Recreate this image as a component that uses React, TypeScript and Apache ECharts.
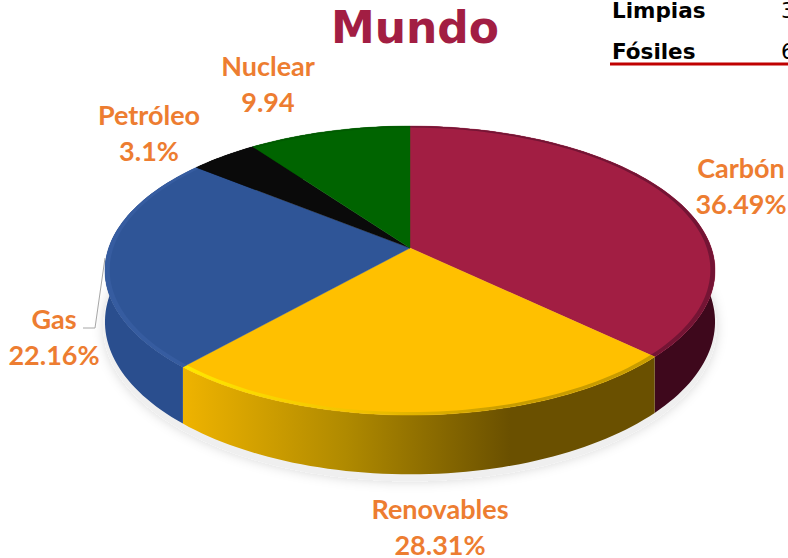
import React, { useEffect, useRef } from "react";
import * as echarts from "echarts";

const categories = ["Carbón", "Renovables", "Gas", "Petróleo", "Nuclear"];
// Slice sizes as drawn in the picture (they differ a little from the printed labels).
const sliceShares = [37.1, 24.5, 24.2, 4.2, 10.0];
const labelValues = ["36.49%", "28.31%", "22.16%", "3.1%", "9.94"];
const tableRows = ["Limpias", "Fósiles"];
const tableValues = ["3", "6"];

const topColors = ["#A21E43", "#FFC000", "#2F5597", "#0A0A0A", "#006400"];
const labelAnchors = [[741, 185], [440, 526], [54, 336], [149, 132], [268, 83]];
const sideStops: string[][] = [
  ["#4E0C25", "#4E0C25", "#3E081C"],
  ["#F0B400", "#B08A00", "#6A5000"],
  ["#2A4E8E", "#2A4E8E", "#23447E"],
  ["#000000", "#000000", "#000000"],
  ["#004000", "#004000", "#004000"],
];
const bevelStops: string[][] = [
  ["#8A1A3C", "#7C1838", "#741434"],
  ["#FFE800", "#F4C400", "#C89C00"],
  ["#365CA0", "#365CA0", "#365CA0"],
  ["#0A0A0A", "#0A0A0A", "#0A0A0A"],
  ["#005A00", "#005A00", "#005A00"],
];

const LABEL = "#ED7D31";
const CX = 410, CY = 248, A = 141, B = 301.3, P = 0.156, DEPTH = 50;
const LEFT = 180, RIGHT = 510;

const proj = (deg: number, r = 1, drop = 0) => {
  const t = (deg * Math.PI) / 180;
  const X = r * Math.sin(t), Y = r * Math.cos(t);
  const d = 1 + P * Y;
  return [CX + (B * X) / d, CY - (A * Y) / d + (drop * DEPTH) / d];
};
const arc = (from: number, to: number, r = 1, drop = 0) => {
  const n = Math.max(2, Math.ceil(Math.abs(to - from) / 1.5));
  const pts: number[][] = [];
  for (let i = 0; i <= n; i++) pts.push(proj(from + ((to - from) * i) / n, r, drop));
  return pts;
};
const total = sliceShares.reduce((s, v) => s + v, 0);
const starts = sliceShares.map((_, i) =>
  (sliceShares.slice(0, i).reduce((s, v) => s + v, 0) / total) * 360);
const ends = starts.map((s, i) => s + (sliceShares[i] / total) * 360);
const grad = (stops: string[]) => ({
  type: "linear", global: true, x: LEFT, y: 0, x2: RIGHT, y2: 0,
  colorStops: stops.map((color, i) => ({ offset: i / (stops.length - 1), color })),
});

const renderSide = (params: any) => {
  const i = params.dataIndex;
  const pts = [...arc(starts[i], ends[i]), ...arc(ends[i], starts[i], 1, 1)];
  return {
    type: "polygon",
    shape: { points: pts },
    style: { fill: grad(sideStops[i]), stroke: null },
  };
};
const labelText = (text: string, x: number, y: number) => ({
  type: "text",
  x,
  y,
  style: {
    text,
    fill: LABEL,
    font: "bold 27px Lato, sans-serif",
    align: "center",
    verticalAlign: "middle",
  },
});
const renderTop = (params: any) => {
  const i = params.dataIndex;
  const a0 = starts[i], a1 = ends[i];
  return {
    type: "group",
    children: [
      {
        type: "polygon",
        shape: { points: [proj(0, 0), ...arc(a0, a1)] },
        style: { fill: topColors[i], stroke: topColors[i], lineWidth: 0.4 },
      },
      {
        type: "polygon",
        shape: { points: [...arc(a0, a1, 1), ...arc(a1, a0, 0.985)] },
        style: { fill: grad(bevelStops[i]) },
      },
      labelText(categories[i], labelAnchors[i][0], labelAnchors[i][1] - 18),
      labelText(labelValues[i], labelAnchors[i][0], labelAnchors[i][1] + 18),
    ],
  };
};

const seriesData = categories.map((name, i) => ({ name, value: [sliceShares[i]] }));

export default function App() {
  const ref = useRef<HTMLDivElement>(null);
  useEffect(() => {
    document.body.style.margin = "0";
    const chart = echarts.init(ref.current!, undefined, { renderer: "svg" });
    const shadow = arc(0, 360, 1.005, 1.1);
    chart.setOption({
      animation: false,
      backgroundColor: "#FFFFFF",
      graphic: [
        {
          type: "polygon",
          z: 0,
          shape: { points: shadow },
          style: { fill: "#EFEFEF", shadowBlur: 12, shadowColor: "rgba(0,0,0,0.16)" },
        },
        {
          type: "polyline",
          z: 1,
          shape: { points: [[105, 258], [95, 328], [83, 328]] },
          style: { stroke: "#A6A6A6", lineWidth: 1, fill: "none" },
        },
        {
          type: "text", x: 415, y: 27, z: 5,
          style: {
            text: "Mundo", fill: "#A21E43", font: "bold 44px 'DejaVu Sans', sans-serif",
            align: "center", verticalAlign: "middle",
          },
        },
        ...tableRows.map((t, i) => ({
          type: "text", x: 612, y: 10 + i * 41, z: 5,
          style: {
            text: t, fill: "#000000", font: "bold 21.5px 'DejaVu Sans', sans-serif",
            align: "left", verticalAlign: "middle",
          },
        })),
        ...tableValues.map((t, i) => ({
          type: "text", x: 781, y: 10 + i * 41, z: 5,
          style: {
            text: t, fill: "#000000", font: "21.5px 'DejaVu Sans', sans-serif",
            align: "left", verticalAlign: "middle",
          },
        })),
        {
          type: "line", z: 5,
          shape: { x1: 610, y1: 64, x2: 788, y2: 64 },
          style: { stroke: "#C00000", lineWidth: 3 },
        },
      ],
      series: [
        { type: "custom", name: "sides", coordinateSystem: "none", z: 2, silent: true,
          renderItem: renderSide, data: seriesData },
        { type: "custom", name: "tops", coordinateSystem: "none", z: 3, silent: true,
          renderItem: renderTop, data: seriesData },
      ],
    });
    return () => chart.dispose();
  }, []);
  return <div ref={ref} style={{ width: 788, height: 558, overflow: "hidden" }} />;
}
